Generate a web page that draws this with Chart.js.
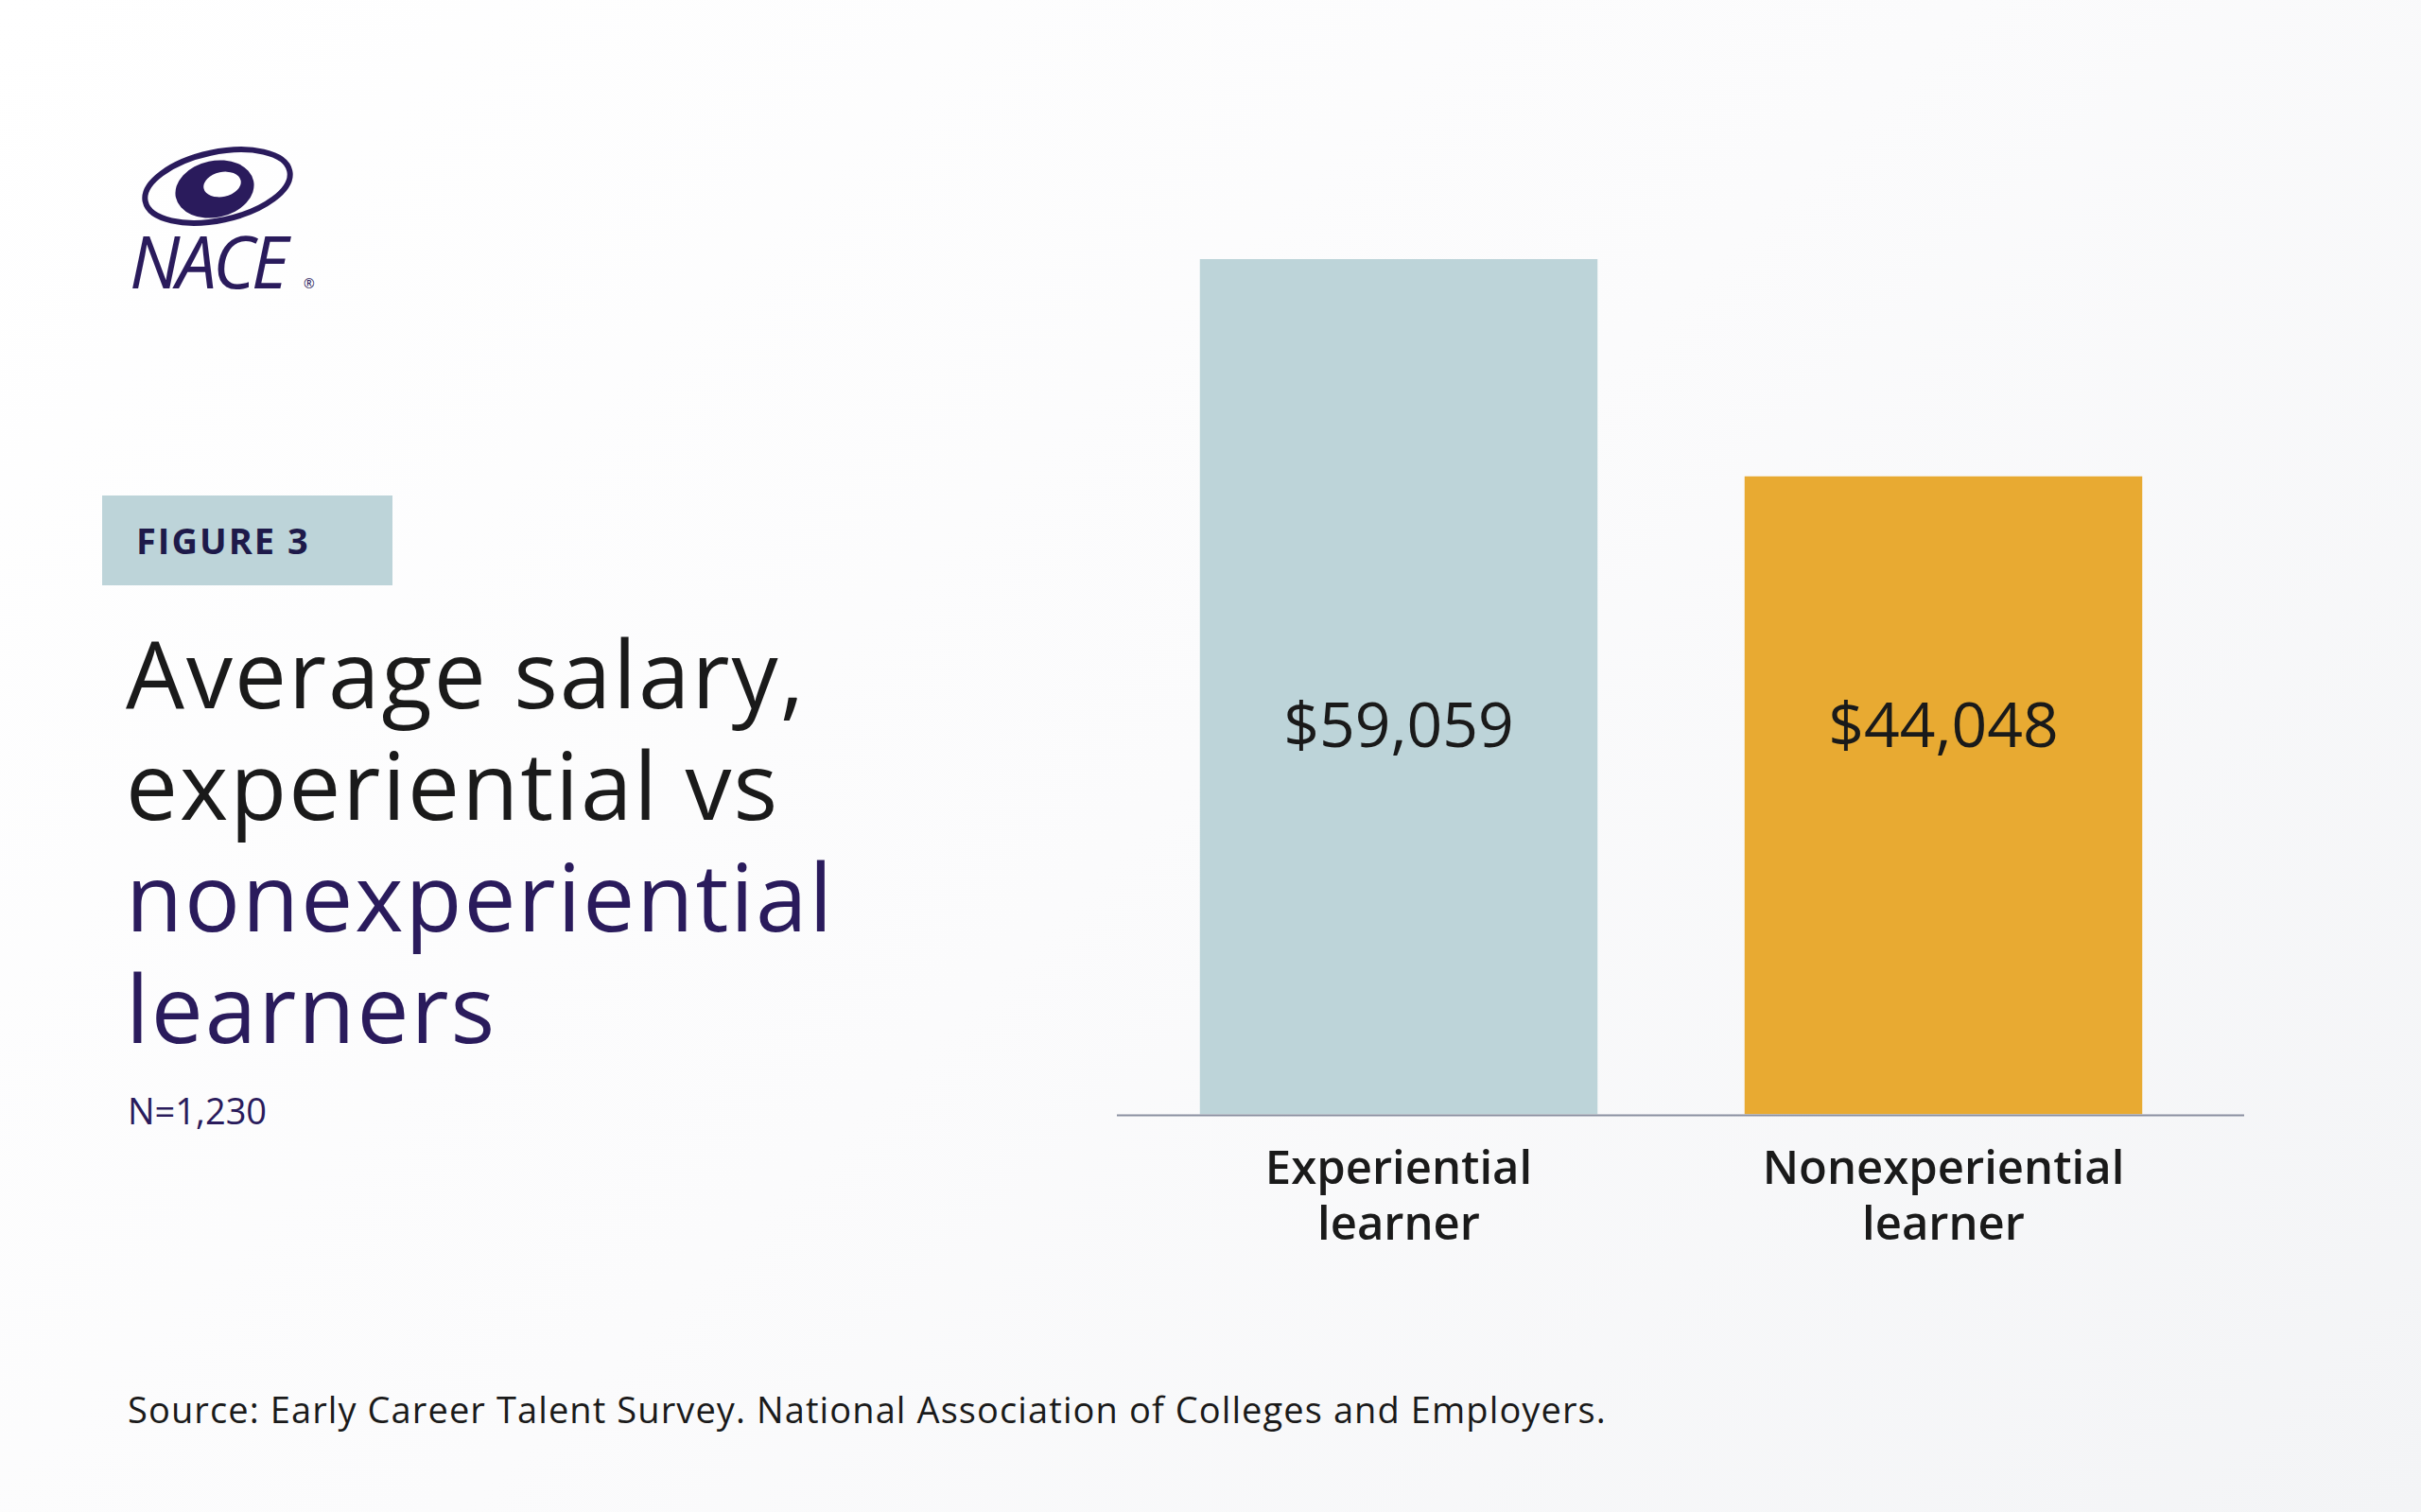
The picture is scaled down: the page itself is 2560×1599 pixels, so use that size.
<!DOCTYPE html>
<html><head><meta charset="utf-8">
<script src="https://cdn.jsdelivr.net/npm/chart.js@4/dist/chart.umd.min.js"></script>
<style>
body{margin:0;width:2560px;height:1599px;background:linear-gradient(135deg,#ffffff 0%,#fbfbfc 50%,#f3f4f6 100%);position:relative;overflow:hidden;font-family:"Open Sans",sans-serif;}
.abs{position:absolute;}
#fig{left:108px;top:524px;width:307px;height:95px;background:#bdd4d9;color:#1e1a4a;font-weight:700;font-size:38px;letter-spacing:2px;line-height:95px;box-sizing:border-box;padding-left:36px;}
#title{left:133px;top:652px;font-size:98px;line-height:118px;color:#1a1a1a;font-weight:400;letter-spacing:2px;}
#title .p{color:#2a1b5c;}
#n{left:135px;top:1148px;font-size:38px;color:#2a1b5c;}
#src{left:135px;top:1464px;font-size:38px;color:#1a1a1a;letter-spacing:1.1px;}
#wrap{left:1181px;top:234px;width:1192px;height:1122px;}
</style></head><body>
<svg class="abs" style="left:135px;top:155px" width="210" height="160">
<ellipse cx="95" cy="42" rx="78" ry="36" fill="none" stroke="#2a1b5c" stroke-width="6" transform="rotate(-12 95 42)"/>
<ellipse cx="92" cy="45" rx="42" ry="30" fill="#2a1b5c" transform="rotate(-12 92 45)"/>
<ellipse cx="100" cy="40" rx="20" ry="13" fill="#fff" transform="rotate(-12 100 40)"/>
<text x="2" y="150" font-family="Open Sans" font-style="italic" font-size="76" fill="#2a1b5c" letter-spacing="-4">NACE</text>
<text x="186" y="150" font-size="14" fill="#2a1b5c">®</text>
</svg>
<div id="fig" class="abs">FIGURE 3</div>
<div id="title" class="abs">Average salary,<br>experiential vs<br><span class="p">nonexperiential<br>learners</span></div>
<div id="n" class="abs">N=1,230</div>
<div id="src" class="abs">Source: Early Career Talent Survey. National Association of Colleges and Employers.</div>
<div id="wrap" class="abs"><canvas id="c"></canvas></div>
<script>
const categories = [["Experiential","learner"],["Nonexperiential","learner"]];
const salaries = [59059, 44048];
const valueLabels = ["$59,059", "$44,048"];
const colors = ["#bdd4d9", "#e8aa32"];

const labelPlugin = {
  id:'vals',
  afterDatasetsDraw(chart){
    const {ctx, chartArea} = chart;
    const meta = chart.getDatasetMeta(0);
    ctx.save();
    ctx.strokeStyle='#8a8fa0'; ctx.lineWidth=2;
    ctx.beginPath(); ctx.moveTo(0, chartArea.bottom+1); ctx.lineTo(chart.width, chartArea.bottom+1); ctx.stroke();
    ctx.font = '400 66px "Open Sans"';
    ctx.fillStyle = '#1a1a1a';
    ctx.textAlign='center'; ctx.textBaseline='middle';
    const y = chartArea.top + 0.55*(chartArea.bottom-chartArea.top);
    meta.data.forEach((b,i)=>ctx.fillText(valueLabels[i], b.x, y));
    ctx.restore();
  }
};
new Chart(document.getElementById('c'),{
  type:'bar',
  data:{labels:categories,datasets:[{data:salaries,backgroundColor:colors,barPercentage:0.73,categoryPercentage:1}]},
  options:{responsive:true,maintainAspectRatio:false,animation:false,
    layout:{padding:{top:40,left:10,right:30}},
    plugins:{legend:{display:false},tooltip:{enabled:false}},
    scales:{
      y:{display:false,min:0,max:59059,grace:0},
      x:{grid:{display:false,drawTicks:false},border:{display:false},
        ticks:{color:'#1a1a1a',font:{family:'Open Sans',size:49,weight:'600'},padding:30}}
    }},
  plugins:[labelPlugin]
});
</script>
</body></html>
